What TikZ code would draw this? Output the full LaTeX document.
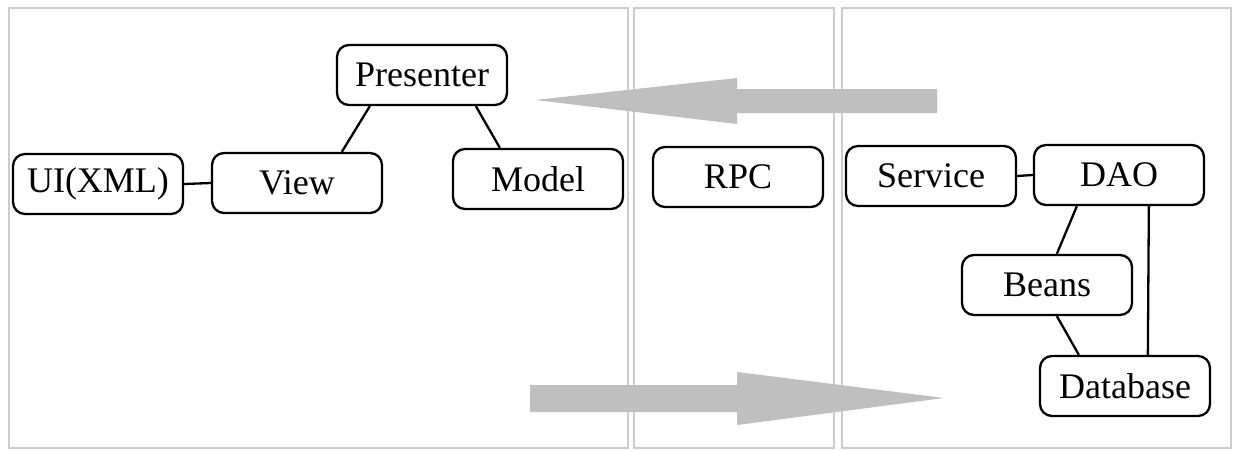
\documentclass[tikz,border=0pt]{standalone}
\usepackage{fontspec}
\setmainfont{Liberation Serif}
\begin{document}
\begin{tikzpicture}[x=1pt,y=-1pt,
  panel/.style={draw=gray!40, line width=2.5pt},
  box/.style={draw, line width=2.3pt, rounded corners=12pt, fill=white,
    minimum width=170pt, minimum height=60pt, inner sep=0pt,
    font=\fontsize{36}{40}\selectfont},
  link/.style={line width=2.3pt},
  flow/.style={fill=gray!50, draw=none}]
\useasboundingbox (0,0) rectangle (1236,450);
\fill[white] (0,0) rectangle (1236,450);

% layer panels
\draw[panel] (9,8) rectangle (628,448);
\draw[panel] (634,8) rectangle (834,448);
\draw[panel] (842,8) rectangle (1231,448);

% request / response arrows
\coordinate (upTip) at (535,100);
\coordinate (downTip) at (944,398);
\fill[flow] (upTip) -- (737,78) -- (737,89) -- (937,89) -- (937,113)
  -- (737,113) -- (737,124) -- cycle;
\fill[flow] (downTip) -- (737,425) -- (737,412) -- (530,412) -- (530,385)
  -- (737,385) -- (737,372) -- cycle;

% client side (MVP)
\node[box] (P) at (422,75) {Presenter};
\node[box] (UI) at (98,184) {UI(XML)};
\node[box] (V) at (297,183) {View};
\node[box] (M) at (538,179) {Model};

% transport
\node[box] (R) at (738,177) {RPC};

% server side
\node[box] (S) at (931,176) {Service};
\node[box] (D) at (1119,175) {DAO};
\node[box] (B) at (1047,285) {Beans};
\node[box] (DB) at (1125,386) {Database};

% links
\draw[link] ([xshift=34pt]P.south west) -- ([xshift=131pt]V.north west);
\draw[link] ([xshift=140pt]P.south west) -- ([xshift=48pt]M.north west);
\draw[link] (UI.east) -- (V.west);
\draw[link] (S.east) -- (D.west);
\draw[link] ([xshift=44pt]D.south west) -- ([xshift=96pt]B.north west);
\draw[link] ([xshift=116pt]D.south west) -- ([xshift=109pt]DB.north west);
\draw[link] ([xshift=96pt]B.south west) -- ([xshift=40pt]DB.north west);
\end{tikzpicture}
\end{document}
